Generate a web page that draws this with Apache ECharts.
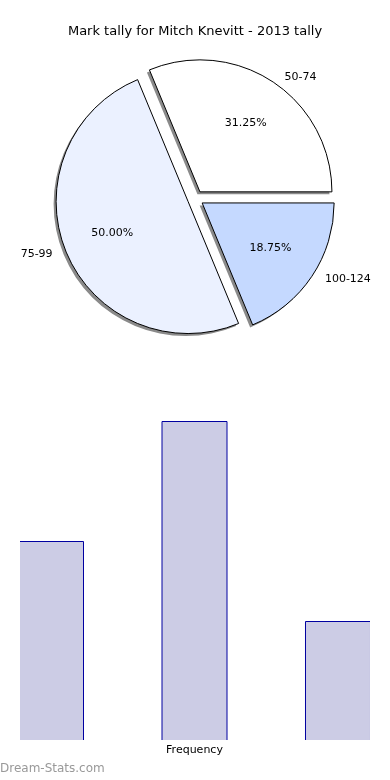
<!DOCTYPE html>
<html>
<head>
<meta charset="utf-8">
<script src="https://cdn.jsdelivr.net/npm/echarts@6/dist/echarts.min.js"></script>
<style>
html,body{margin:0;padding:0;background:#fff;}
#chart{width:390px;height:780px;}
</style>
</head>
<body>
<div id="chart"></div>
<script>
const titleText = 'Mark tally for Mitch Knevitt - 2013 tally';
const categories = ['50-74', '75-99', '100-124'];
const frequency = [5, 8, 3];
const sliceColors = ['#ffffff', '#ebf1ff', '#c5d9ff'];
const barAxisName = 'Frequency';
const watermark = 'Dream-Stats.com';

const PIE_R = 132;
const PIE_C = [195.5, 198.5];
const SHADOW_D = 2.5;
const OFFSET = 8;
const FONT = 'DejaVu Sans';

const chart = echarts.init(document.getElementById('chart'), null, {renderer: 'canvas'});

const makeData = colors => categories.map((c, i) => ({
  name: c, value: frequency[i], selected: true,
  itemStyle: colors ? {color: colors[i]} : undefined
}));

const pieCommon = {
  type: 'pie', silent: true,
  startAngle: 0, clockwise: false,
  selectedMode: 'multiple', selectedOffset: OFFSET,
  avoidLabelOverlap: false,
  emphasis: {disabled: true}
};

const mainStyle = {borderColor: '#000', borderWidth: 1};
const shadowStyle = {color: '#8a8a8a', borderWidth: 0};
const clearStyle = {color: 'rgba(0,0,0,0)', borderWidth: 0};

const option = {
  animation: false,
  title: {
    text: titleText, left: 'center', top: 20,
    textStyle: {fontFamily: FONT, fontSize: 13, fontWeight: 'normal', color: '#000'}
  },
  grid: {left: 19, right: 20, top: 421, bottom: 39},
  xAxis: {
    type: 'value', min: -0.223, max: 2.223,
    name: barAxisName, nameLocation: 'middle', nameGap: 4,
    nameTextStyle: {fontFamily: FONT, fontSize: 11, color: '#000'},
    axisLine: {show: false}, axisTick: {show: false}, axisLabel: {show: false}, splitLine: {show: false}
  },
  yAxis: {
    type: 'value', min: 0, max: 8,
    axisLine: {show: false}, axisTick: {show: false}, axisLabel: {show: false}, splitLine: {show: false}
  },
  series: [
    Object.assign({}, pieCommon, {
      center: [PIE_C[0] - SHADOW_D, PIE_C[1] + SHADOW_D], radius: PIE_R,
      data: makeData(null),
      itemStyle: shadowStyle, select: {itemStyle: shadowStyle},
      label: {show: false}, labelLine: {show: false}
    }),
    Object.assign({}, pieCommon, {
      center: PIE_C, radius: PIE_R,
      data: makeData(sliceColors),
      itemStyle: mainStyle, select: {itemStyle: mainStyle},
      label: {
        show: true, position: 'outside', fontFamily: FONT, fontSize: 11, color: '#000',
        distanceToLabelLine: 8
      },
      labelLine: {show: false, length: 6, length2: 0}
    }),
    Object.assign({}, pieCommon, {
      center: PIE_C, radius: PIE_R * 1.2,
      data: makeData(null),
      itemStyle: clearStyle, select: {itemStyle: clearStyle},
      label: {
        show: true, position: 'inside', fontFamily: FONT, fontSize: 11, color: '#000',
        formatter: p => p.percent.toFixed(2) + '%'
      },
      labelLine: {show: false}
    }),
    {
      type: 'bar', silent: true, barWidth: 66, clip: true,
      data: categories.map((c, i) => ({name: c, value: [i, frequency[i]]})),
      itemStyle: {color: '#ccccE5', borderColor: '#0000a0', borderWidth: 1}
    }
  ],
  graphic: [
    {type: 'rect', left: 0, top: 400, z: 100, shape: {width: 19, height: 345}, style: {fill: '#fff', stroke: '#fff', lineWidth: 1}},
    {type: 'rect', left: 370, top: 400, z: 100, shape: {width: 20, height: 345}, style: {fill: '#fff', stroke: '#fff', lineWidth: 1}},
    {type: 'rect', left: 0, top: 740, z: 100, shape: {width: 390, height: 2.5}, style: {fill: '#fff', stroke: '#fff', lineWidth: 1}},
    {
      type: 'text', left: 0, top: 763, z: 101,
      style: {text: watermark, fontFamily: FONT, fontSize: 12, fill: '#999'}
    }
  ]
};
chart.setOption(option);
</script>
</body>
</html>
